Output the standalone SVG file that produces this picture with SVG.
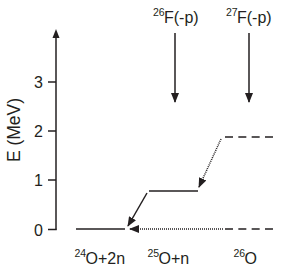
<svg xmlns="http://www.w3.org/2000/svg" width="291" height="272" viewBox="0 0 291 272">
<style>
text{font-family:"Liberation Sans",Arial,sans-serif;fill:#231f20}
.t{font-size:16px}
.s{font-size:10.5px}
.yl{font-size:17.5px}
.ax{stroke:#231f20;stroke-width:1.5;fill:none}
.lv{stroke:#231f20;stroke-width:1.6;fill:none}
.dash{stroke:#231f20;stroke-width:1.6;fill:none;stroke-dasharray:8,5.33}
.arr{stroke:#231f20;stroke-width:1.5;fill:none}
.dot{stroke:#231f20;stroke-width:1.5;fill:none;stroke-dasharray:1,1}
</style>
<defs>
<marker id="ah" markerUnits="userSpaceOnUse" markerWidth="10" markerHeight="8" refX="9" refY="4" orient="auto">
<path d="M0,0 L10,4 L0,8 z" fill="#231f20"/>
</marker>
</defs>
<g id="axis">
<line class="ax" x1="56" y1="229.5" x2="56" y2="38"/>
<path d="M52.5,38 L56,29 L59.5,38 z" fill="#231f20"/>
<line class="ax" x1="48" y1="229.5" x2="56.75" y2="229.5"/>
<line class="ax" x1="48" y1="180" x2="56" y2="180"/>
<line class="ax" x1="48" y1="131" x2="56" y2="131"/>
<line class="ax" x1="48" y1="82" x2="56" y2="82"/>
<text class="t" x="43" y="235.5" text-anchor="end">0</text>
<text class="t" x="43" y="186" text-anchor="end">1</text>
<text class="t" x="43" y="137" text-anchor="end">2</text>
<text class="t" x="43" y="88" text-anchor="end">3</text>
<text class="yl" transform="translate(20,130) rotate(-90)" text-anchor="middle">E (MeV)</text>
</g>
<g id="level-24O">
<line class="lv" x1="76" y1="229" x2="125" y2="229"/>
<text class="t"><tspan class="s" x="74.5" y="257">24</tspan><tspan x="85.5" y="264">O+2n</tspan></text>
</g>
<g id="level-25O">
<line class="lv" x1="149" y1="191" x2="198" y2="191"/>
<text class="t"><tspan class="s" x="147.5" y="257">25</tspan><tspan x="158.5" y="264">O+n</tspan></text>
</g>
<g id="level-26O">
<line class="dash" x1="225" y1="137" x2="273" y2="137"/>
<line class="dash" x1="225" y1="229" x2="273" y2="229"/>
<text class="t"><tspan class="s" x="233.5" y="257">26</tspan><tspan x="244.5" y="264">O</tspan></text>
</g>
<g id="source-26F">
<text class="t"><tspan class="s" x="153" y="16">26</tspan><tspan x="164" y="23">F(-p)</tspan></text>
</g>
<g id="source-27F">
<text class="t"><tspan class="s" x="226" y="16">27</tspan><tspan x="237" y="23">F(-p)</tspan></text>
</g>
<g id="connectors">
<line class="arr" x1="175" y1="33" x2="175" y2="102" marker-end="url(#ah)"/>
<line class="arr" x1="249" y1="33" x2="249" y2="102" marker-end="url(#ah)"/>
<line class="arr" x1="147" y1="193" x2="128" y2="226" marker-end="url(#ah)"/>
<line class="dot" x1="221" y1="139" x2="199" y2="187" marker-end="url(#ah)"/>
<line class="dot" x1="223" y1="229" x2="130" y2="229" marker-end="url(#ah)"/>
</g>
</svg>
